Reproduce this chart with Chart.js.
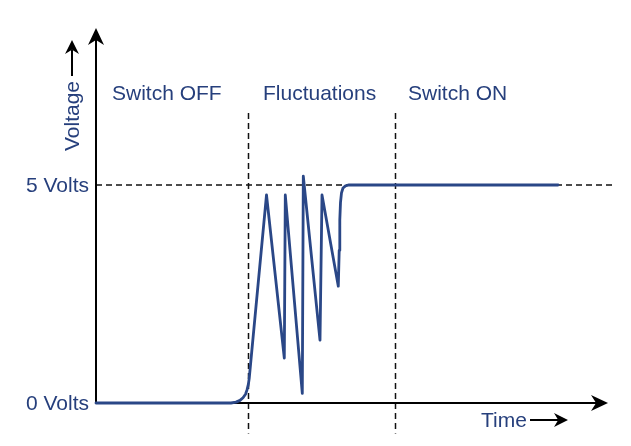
<!DOCTYPE html>
<html>
<head>
<meta charset="utf-8">
<script src="https://cdn.jsdelivr.net/npm/chart.js@4"></script>
<style>
  html,body{margin:0;padding:0;background:#fff;}
  #wrap{width:631px;height:446px;position:relative;}
</style>
</head>
<body>
<div id="wrap"><canvas id="c" width="631" height="446"></canvas></div>
<script>
// ---- data ----
const timeValues = [0, 135, 140, 144, 147, 149.5, 151, 152.3, 153.2, 170.5, 188.3, 189.3, 206.3, 207.3, 224, 226, 242.3, 243.2, 243.8, 244.5, 245.5, 247, 249.5, 253, 462];
const voltValues = [0, 0, 0.02, 0.06, 0.12, 0.2, 0.3, 0.42, 0.56, 4.77, 1.03, 4.77, 0.22, 5.2, 1.44, 4.77, 2.68, 3.5, 4.2, 4.6, 4.82, 4.93, 4.98, 5, 5];
const yTickValues = [0, 5];
const yTickLabels = ['0 Volts', '5 Volts'];
const regionBoundaries = [152, 299];
const regionLabels = ['Switch OFF', 'Fluctuations', 'Switch ON'];
const regionLabelStarts = [16, 167, 312];
const xAxisTitle = 'Time';
const yAxisTitle = 'Voltage';
const referenceVolt = 5;

const TEXT = '#263f7c';
const LINE = '#2a4787';
const FONT = '21px "Liberation Sans", Arial, sans-serif';

function arrowHead(ctx, x, y, dir, len, half) {
  ctx.beginPath();
  if (dir === 'up') {
    ctx.moveTo(x, y);
    ctx.lineTo(x - half, y + len);
    ctx.lineTo(x, y + len * 0.7);
    ctx.lineTo(x + half, y + len);
  } else {
    ctx.moveTo(x, y);
    ctx.lineTo(x - len, y - half);
    ctx.lineTo(x - len * 0.7, y);
    ctx.lineTo(x - len, y + half);
  }
  ctx.closePath();
  ctx.fill();
}

const decor = {
  id: 'decor',
  beforeDatasetsDraw(chart) {
    const ctx = chart.ctx, xs = chart.scales.x, ys = chart.scales.y;
    const x0 = xs.getPixelForValue(0), y0 = ys.getPixelForValue(0);
    ctx.save();
    ctx.strokeStyle = '#111';
    ctx.lineWidth = 1.5;
    ctx.setLineDash([6, 4]);
    const y5 = ys.getPixelForValue(referenceVolt);
    ctx.beginPath();
    ctx.moveTo(x0, y5);
    ctx.lineTo(xs.getPixelForValue(516), y5);
    ctx.stroke();
    regionBoundaries.forEach(b => {
      const px = Math.round(xs.getPixelForValue(b)) + 0.5;
      ctx.beginPath();
      ctx.moveTo(px, ys.getPixelForValue(6.65));
      ctx.lineTo(px, ys.getPixelForValue(-0.7));
      ctx.stroke();
    });
    ctx.setLineDash([]);
    ctx.strokeStyle = '#000';
    ctx.fillStyle = '#000';
    ctx.lineWidth = 2;
    ctx.beginPath();
    ctx.moveTo(x0, y0);
    ctx.lineTo(x0, chart.chartArea.top + 8);
    ctx.moveTo(x0, y0);
    ctx.lineTo(chart.chartArea.right - 8, y0);
    ctx.stroke();
    arrowHead(ctx, x0, chart.chartArea.top, 'up', 17, 8);
    arrowHead(ctx, chart.chartArea.right, y0, 'right', 17, 8);
    ctx.restore();
  },
  afterDatasetsDraw(chart) {
    const ctx = chart.ctx, xs = chart.scales.x, ys = chart.scales.y;
    const x0 = xs.getPixelForValue(0);
    ctx.save();
    ctx.font = FONT;
    ctx.fillStyle = TEXT;
    ctx.textBaseline = 'middle';
    ctx.textAlign = 'right';
    yTickValues.forEach((v, i) => {
      ctx.fillText(yTickLabels[i], x0 - 7, ys.getPixelForValue(v) + 1);
    });
    ctx.textAlign = 'left';
    regionLabels.forEach((t, i) => {
      ctx.fillText(t, xs.getPixelForValue(regionLabelStarts[i]), 94);
    });
    ctx.fillText(xAxisTitle, 481, 421);
    ctx.strokeStyle = '#000';
    ctx.fillStyle = '#000';
    ctx.lineWidth = 2;
    ctx.beginPath();
    ctx.moveTo(530, 420);
    ctx.lineTo(558, 420);
    ctx.stroke();
    arrowHead(ctx, 568, 420, 'right', 14, 7);
    ctx.save();
    ctx.translate(72, 116);
    ctx.rotate(-Math.PI / 2);
    ctx.fillStyle = TEXT;
    ctx.textAlign = 'center';
    ctx.fillText(yAxisTitle, 0, 1);
    ctx.restore();
    ctx.beginPath();
    ctx.moveTo(72, 76);
    ctx.lineTo(72, 50);
    ctx.stroke();
    arrowHead(ctx, 72, 40, 'up', 14, 7);
    ctx.restore();
  }
};

new Chart(document.getElementById('c'), {
  type: 'line',
  data: {
    datasets: [{
      data: timeValues.map((t, i) => ({ x: t, y: voltValues[i] })),
      borderColor: LINE,
      borderWidth: 2.8,
      borderJoinStyle: 'round',
      borderCapStyle: 'round',
      pointRadius: 0,
      tension: 0,
      fill: false,
      clip: false
    }]
  },
  options: {
    responsive: false,
    animation: false,
    events: [],
    layout: { padding: { left: 96, right: 23, top: 28, bottom: 43 } },
    plugins: { legend: { display: false }, tooltip: { enabled: false } },
    scales: {
      x: { type: 'linear', min: 0, max: 512, display: false },
      y: { type: 'linear', min: 0, max: 8.6, display: false }
    }
  },
  plugins: [decor]
});
</script>
</body>
</html>
